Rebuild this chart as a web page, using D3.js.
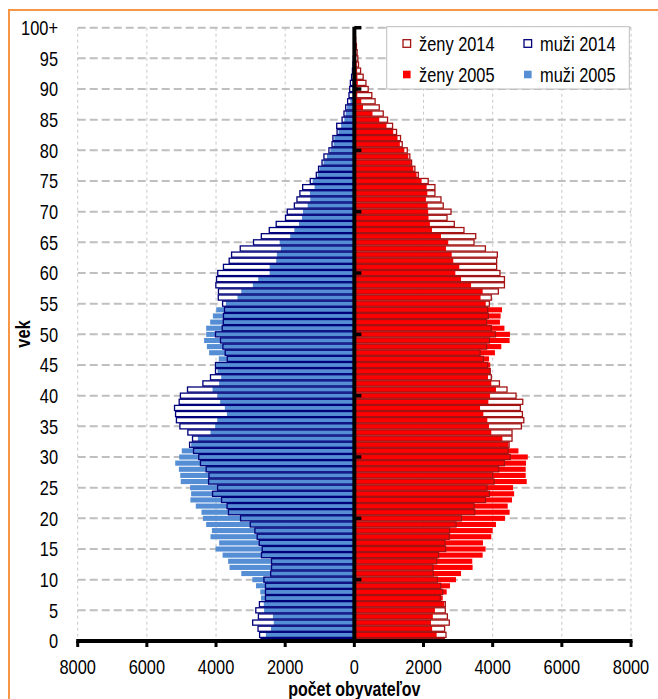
<!DOCTYPE html>
<html>
<head>
<meta charset="utf-8">
<script src="https://cdn.jsdelivr.net/npm/d3@7"></script>
<style>
  html, body { margin: 0; padding: 0; background: #fff; }
  svg { display: block; }
</style>
</head>
<body>
<svg id="chart" width="658" height="699"></svg>
<script>
(function(){
'use strict';

// ages 0 .. 100 (top label reads "100+")
var ages = d3.range(0, 101);
var yTicks = d3.range(0, 101, 5);
var yTickLabels = yTicks.map(function(a){ return a === 100 ? '100+' : String(a); });
var xTicks = [-8000, -6000, -4000, -2000, 0, 2000, 4000, 6000, 8000];

var muzi2014 = [
    2700, 2740, 2785, 2940, 2775, 2850, 2745, 2570, 2570, 2570,
    2615, 2420, 2395, 2395, 2685, 2665, 2750, 2810, 2875, 3010,
    3290, 3640, 3680, 3840, 4100, 3955, 4215, 4205, 4285, 4450,
    4500, 4650, 4765, 4680, 4815, 5045, 5145, 5170, 5200, 5065,
    5030, 4825, 4380, 4160, 4015, 4015, 3675, 3735, 3800, 3870,
    4015, 3820, 3790, 3785, 3755, 3810, 3935, 3930, 4005, 3985,
    3950, 3785, 3620, 3550, 3300, 2915, 2690, 2460, 2260, 1990,
    1940, 1735, 1660, 1575, 1495, 1275, 1100, 1035, 935, 880,
    735, 645, 620, 500, 510, 355, 300, 250, 195, 155,
    135, 115, 80, 55, 40, 30, 20, 15, 10, 5,
    5
];
var muzi2005 = [
    2500, 2560, 2410, 2330, 2355, 2610, 2620, 2700, 2720, 2845,
    2950, 3270, 3610, 3650, 3810, 4015, 3910, 4160, 4120, 4285,
    4380, 4420, 4585, 4740, 4720, 4750, 5020, 5035, 5075, 5180,
    5065, 4990, 4720, 4525, 4160, 4025, 3965, 3685, 3745, 3880,
    3965, 4100, 3910, 3850, 3955, 3995, 3920, 4200, 4265, 4345,
    4285, 4285, 4170, 4090, 3995, 3715, 3380, 3270, 2935, 2780,
    2450, 2450, 2260, 2240, 2125, 2160, 1855, 1735, 1600, 1515,
    1485, 1350, 1275, 1285, 1150, 1205, 1060, 1005, 890, 790,
    695, 600, 580, 455, 385, 290, 250, 210, 115, 50,
    70, 55, 40, 30, 20, 15, 10, 8, 5, 3,
    3
];
var zeny2014 = [
    2600, 2650, 2610, 2745, 2690, 2630, 2630, 2485, 2555, 2495,
    2400, 2280, 2270, 2380, 2435, 2640, 2620, 2745, 2755, 2940,
    3095, 3480, 3460, 3790, 3905, 3835, 4040, 4000, 4175, 4340,
    4510, 4445, 4475, 4560, 4560, 4830, 4900, 4860, 4800, 4870,
    4675, 4415, 4195, 3960, 3930, 3855, 3730, 3635, 3825, 3905,
    4080, 3960, 3825, 3875, 3855, 3905, 3960, 4165, 4340, 4340,
    4210, 4115, 4115, 4135, 3790, 3460, 3510, 3170, 2890, 2680,
    2795, 2570, 2505, 2330, 2330, 2135, 1850, 1750, 1655, 1605,
    1530, 1385, 1335, 1220, 1105, 960, 835, 720, 600, 505,
    400, 335, 255, 180, 120, 100, 80, 60, 40, 30,
    30
];
var zeny2005 = [
    2300, 2380, 2250, 2215, 2270, 2330, 2600, 2555, 2670, 2765,
    2940, 3085, 3420, 3410, 3710, 3795, 3720, 3960, 4000, 4095,
    4355, 4490, 4435, 4560, 4620, 4590, 4985, 4955, 4955, 4965,
    5015, 4745, 4455, 4280, 3960, 3895, 3845, 3730, 3635, 3875,
    3925, 4095, 3960, 3865, 3930, 3930, 3895, 4065, 4250, 4490,
    4500, 4340, 4210, 4230, 4270, 3800, 3650, 3710, 3375, 3085,
    2920, 3035, 2860, 2815, 2650, 2715, 2505, 2245, 2185, 2145,
    2135, 2120, 2070, 2110, 2090, 1945, 1800, 1705, 1635, 1560,
    1445, 1315, 1250, 1125, 930, 720, 525, 250, 200, 85,
    100, 100, 90, 80, 70, 50, 40, 30, 20, 10,
    10
];

var legendItems = [
    { label: 'ženy 2014', kind: 'outline', color: '#a31313' },
    { label: 'muži 2014', kind: 'outline', color: '#00007a' },
    { label: 'ženy 2005', kind: 'fill', color: '#ff0000' },
    { label: 'muži 2005', kind: 'fill', color: '#558ed5' }
];

var C = {
    orange: '#f79646',
    grid: '#bfbfbf',
    menFill: '#558ed5',
    menLine: '#00007a',
    womenFill: '#ff0000',
    womenLine: '#a31313'
};

var plot = { left: 77.7, right: 631, top: 27.7, bottom: 641 };

var svg = d3.select('#chart');

// pick a condensed face if one is installed, else squeeze a regular one
var fontInfo = (function(){
    var probe = svg.append('text').attr('x', -999).attr('y', -999)
        .attr('font-size', 40).text('100+ ženy 2014 obyvateľov');
    probe.attr('font-family', 'monospace');
    var base = probe.node().getComputedTextLength();
    var cands = ['Liberation Sans Narrow', 'Arial Narrow', 'Nimbus Sans Narrow'];
    var found = null;
    cands.forEach(function(c){
        if (found) { return; }
        probe.attr('font-family', '"' + c + '", monospace');
        if (Math.abs(probe.node().getComputedTextLength() - base) > 0.5) { found = c; }
    });
    probe.remove();
    if (found) { return { family: '"' + found + '", sans-serif', sx: 1 }; }
    return { family: '"Liberation Sans", Arial, sans-serif', sx: 0.82 };
})();

function addText(parent, x, y, str, opts){
    opts = opts || {};
    var g = parent.append('g')
        .attr('transform', 'translate(' + x + ',' + y + ')' +
              (opts.rotate ? ' rotate(' + opts.rotate + ')' : '') +
              ' scale(' + fontInfo.sx + ',1)');
    return g.append('text')
        .attr('font-family', fontInfo.family)
        .attr('font-size', opts.size || 20)
        .attr('font-weight', opts.weight || 'normal')
        .attr('text-anchor', opts.anchor || 'start')
        .attr('fill', '#000')
        .text(str);
}

var x = d3.scaleLinear().domain([-8000, 8000]).range([plot.left, plot.right]);
var y = d3.scaleLinear().domain([0, 100]).range([plot.bottom, plot.top]);
var x0 = x(0);

// chart area border (only top and left edge fall inside the picture)
svg.append('rect')
    .attr('x', 9).attr('y', 10)
    .attr('width', 800).attr('height', 800)
    .attr('fill', '#fff')
    .attr('stroke', C.orange).attr('stroke-width', 2);

svg.append('defs').append('clipPath').attr('id', 'plotClip')
    .append('rect')
    .attr('x', plot.left).attr('y', plot.top)
    .attr('width', plot.right - plot.left).attr('height', plot.bottom - plot.top);

// vertical gridlines (fine dots)
svg.append('g').selectAll('line').data(xTicks).enter().append('line')
    .attr('x1', function(d){ return x(d); }).attr('x2', function(d){ return x(d); })
    .attr('y1', plot.top).attr('y2', plot.bottom)
    .attr('stroke', '#c8c8c8').attr('stroke-width', 1)
    .attr('stroke-dasharray', '3,3');

// horizontal gridlines (longer dashes)
svg.append('g').selectAll('line').data(yTicks).enter().append('line')
    .attr('x1', plot.left).attr('x2', plot.right)
    .attr('y1', function(d){ return y(d); }).attr('y2', function(d){ return y(d); })
    .attr('stroke', C.grid).attr('stroke-width', 2)
    .attr('stroke-dasharray', '8,4');

var bars = svg.append('g').attr('clip-path', 'url(#plotClip)');
var barH = 5.1;

function barSide(values, sign){
    return function(sel){
        sel.attr('x', function(d, i){ return sign < 0 ? x(-values[i]) : x0; })
            .attr('width', function(d, i){ return Math.abs(x(values[i]) - x0); })
            .attr('y', function(d){ return y(d) - barH / 2; })
            .attr('height', barH);
    };
}

// 2014 background (white), 2005 solid fill, 2014 outline on top
[[muzi2014, -1], [zeny2014, 1]].forEach(function(s){
    bars.append('g').selectAll('rect').data(ages).enter().append('rect')
        .call(barSide(s[0], s[1]))
        .attr('fill', '#fff');
});
[[muzi2005, -1, C.menFill], [zeny2005, 1, C.womenFill]].forEach(function(s){
    bars.append('g').selectAll('rect').data(ages).enter().append('rect')
        .call(barSide(s[0], s[1]))
        .attr('fill', s[2]);
});
[[muzi2014, -1, C.menLine], [zeny2014, 1, C.womenLine]].forEach(function(s){
    bars.append('g').selectAll('rect').data(ages).enter().append('rect')
        .call(barSide(s[0], s[1]))
        .attr('fill', 'none')
        .attr('stroke', s[2]).attr('stroke-width', 1.3);
});

// vertical axis at 0 with major ticks every 10 years
var vAxis = svg.append('g');
vAxis.append('line')
    .attr('x1', x0).attr('x2', x0)
    .attr('y1', plot.bottom).attr('y2', plot.top - 1)
    .attr('stroke', '#000').attr('stroke-width', 4);
vAxis.selectAll('line.tick').data(d3.range(10, 101, 10)).enter().append('line')
    .attr('class', 'tick')
    .attr('x1', x0).attr('x2', x0 + 7)
    .attr('y1', function(d){ return y(d); }).attr('y2', function(d){ return y(d); })
    .attr('stroke', '#000').attr('stroke-width', 3.5);

// horizontal axis
var hAxis = svg.append('g');
hAxis.append('line')
    .attr('x1', plot.left - 1.5).attr('x2', plot.right + 1.5)
    .attr('y1', plot.bottom).attr('y2', plot.bottom)
    .attr('stroke', '#000').attr('stroke-width', 4);
hAxis.selectAll('line.tick').data(xTicks).enter().append('line')
    .attr('class', 'tick')
    .attr('x1', function(d){ return x(d); }).attr('x2', function(d){ return x(d); })
    .attr('y1', plot.bottom).attr('y2', plot.bottom + 6)
    .attr('stroke', '#000').attr('stroke-width', 3);

xTicks.forEach(function(d){
    addText(svg, x(d), 674, String(Math.abs(d)), { anchor: 'middle' });
});
yTicks.forEach(function(d, i){
    addText(svg, 58, y(d) + 7.2, yTickLabels[i], { anchor: 'end' });
});

addText(svg, x0, 696, 'počet obyvateľov', { anchor: 'middle', weight: 'bold', size: 19.5 });
addText(svg, 30, 334, 'vek', { anchor: 'middle', weight: 'bold', rotate: -90 });

// legend
var lg = svg.append('g');
lg.append('rect')
    .attr('x', 386.7).attr('y', 26.7).attr('width', 242.6).attr('height', 62.3)
    .attr('fill', '#fff').attr('stroke', '#bdbdbd').attr('stroke-width', 1);
legendItems.forEach(function(item, i){
    var col = i % 2, row = Math.floor(i / 2);
    var sx = col ? 524 : 403;
    var cy = row ? 74.5 : 43.5;
    var sq = lg.append('rect')
        .attr('x', sx).attr('y', cy - 3.8).attr('width', 7.6).attr('height', 7.6);
    if (item.kind === 'fill') {
        sq.attr('fill', item.color);
    } else {
        sq.attr('fill', '#fff').attr('stroke', item.color).attr('stroke-width', 1.3);
    }
    addText(lg, sx + 16, cy + 7.2, item.label, {});
});

})();
</script>
</body>
</html>
